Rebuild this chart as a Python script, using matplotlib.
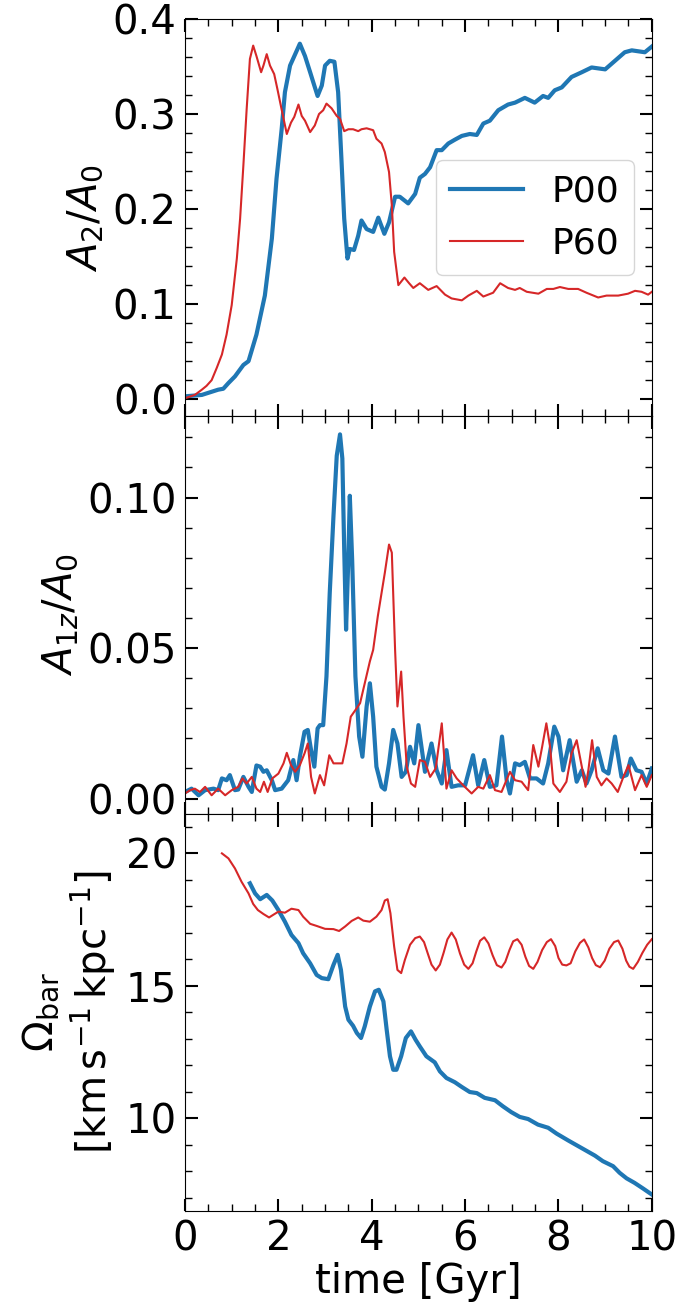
import matplotlib
matplotlib.use('Agg')
from matplotlib import pyplot as plt
from matplotlib.ticker import MultipleLocator

# ---- bar strength A2/A0 ----
t_a2_p00 = [0.0, 0.36, 0.71, 0.82, 0.93, 1.07, 1.25, 1.36, 1.53, 1.71, 1.86, 1.96, 2.07, 2.14,
            2.25, 2.36, 2.46, 2.57, 2.68, 2.75, 2.84, 2.93, 3.0, 3.1, 3.2, 3.28, 3.35, 3.41,
            3.48, 3.53, 3.62, 3.71, 3.78, 3.89, 4.03, 4.14, 4.27, 4.37, 4.5, 4.6, 4.78, 4.93,
            5.03, 5.14, 5.25, 5.39, 5.5, 5.64, 5.78, 5.93, 6.1, 6.25, 6.39, 6.53, 6.71, 6.92,
            7.07, 7.28, 7.49, 7.67, 7.78, 7.92, 8.07, 8.28, 8.5, 8.71, 9.0, 9.14, 9.42, 9.57,
            9.85, 10.0]
a2_p00 = [0.003, 0.0045, 0.010, 0.011, 0.017, 0.024, 0.036, 0.040, 0.068, 0.109, 0.169, 0.232,
          0.284, 0.323, 0.351, 0.363, 0.374, 0.361, 0.344, 0.333, 0.319, 0.330, 0.351, 0.356,
          0.355, 0.323, 0.253, 0.190, 0.148, 0.158, 0.157, 0.172, 0.188, 0.179, 0.176, 0.191,
          0.174, 0.186, 0.213, 0.213, 0.206, 0.216, 0.233, 0.237, 0.244, 0.262, 0.262, 0.269,
          0.273, 0.277, 0.279, 0.278, 0.290, 0.293, 0.304, 0.310, 0.312, 0.317, 0.312, 0.319,
          0.317, 0.325, 0.328, 0.339, 0.344, 0.349, 0.347, 0.353, 0.365, 0.367, 0.365, 0.371]

t_a2_p60 = [0.0, 0.21, 0.36, 0.46, 0.57, 0.68, 0.79, 0.89, 1.0, 1.11, 1.18, 1.25, 1.32, 1.39,
            1.46, 1.53, 1.63, 1.68, 1.75, 1.82, 1.91, 1.98, 2.06, 2.18, 2.27, 2.34, 2.43, 2.5,
            2.57, 2.68, 2.78, 2.87, 2.96, 3.03, 3.14, 3.25, 3.32, 3.41, 3.5, 3.6, 3.71, 3.78,
            3.89, 4.03, 4.1, 4.21, 4.28, 4.37, 4.43, 4.48, 4.57, 4.7, 4.8, 4.89, 5.03, 5.21,
            5.39, 5.57, 5.71, 5.93, 6.07, 6.25, 6.39, 6.6, 6.75, 6.92, 7.07, 7.17, 7.32, 7.57,
            7.75, 7.89, 8.03, 8.21, 8.42, 8.6, 8.85, 9.03, 9.28, 9.49, 9.64, 9.78, 9.92, 10.0]
a2_p60 = [0.001, 0.0045, 0.010, 0.014, 0.020, 0.033, 0.047, 0.068, 0.099, 0.148, 0.190, 0.246,
          0.305, 0.358, 0.372, 0.361, 0.344, 0.351, 0.363, 0.351, 0.342, 0.326, 0.307, 0.279,
          0.291, 0.297, 0.310, 0.298, 0.293, 0.281, 0.288, 0.300, 0.304, 0.311, 0.306, 0.298,
          0.295, 0.282, 0.284, 0.284, 0.282, 0.284, 0.285, 0.283, 0.274, 0.269, 0.260, 0.239,
          0.204, 0.155, 0.120, 0.128, 0.122, 0.117, 0.122, 0.115, 0.119, 0.110, 0.106, 0.104,
          0.109, 0.114, 0.108, 0.112, 0.122, 0.117, 0.115, 0.117, 0.113, 0.111, 0.116, 0.116,
          0.118, 0.116, 0.116, 0.112, 0.107, 0.109, 0.109, 0.111, 0.114, 0.113, 0.110, 0.113]

# ---- vertical asymmetry A1z/A0 ----
t_a1_p00 = [0.0, 0.14, 0.29, 0.43, 0.61, 0.71, 0.79, 0.89, 0.96, 1.07, 1.14, 1.25, 1.36, 1.43,
            1.53, 1.61, 1.68, 1.75, 1.86, 1.93, 2.07, 2.21, 2.32, 2.39, 2.46, 2.56, 2.63, 2.7,
            2.77, 2.84, 2.89, 2.96, 3.03, 3.1, 3.18, 3.25, 3.32, 3.37, 3.41, 3.45, 3.5, 3.53,
            3.58, 3.65, 3.73, 3.8, 3.89, 3.96, 4.03, 4.1, 4.21, 4.28, 4.37, 4.46, 4.55, 4.64,
            4.73, 4.82, 4.91, 5.0, 5.14, 5.28, 5.39, 5.5, 5.6, 5.71, 5.85, 6.0, 6.17, 6.28,
            6.41, 6.53, 6.67, 6.79, 6.89, 6.96, 7.07, 7.17, 7.28, 7.39, 7.53, 7.67, 7.78, 7.91,
            8.0, 8.1, 8.24, 8.39, 8.5, 8.6, 8.71, 8.84, 8.96, 9.07, 9.21, 9.35, 9.46, 9.55,
            9.67, 9.78, 9.89, 10.0]
a1_p00 = [0.0022, 0.0033, 0.0011, 0.0028, 0.0033, 0.0028, 0.0067, 0.0061, 0.0078, 0.0028,
          0.0030, 0.0072, 0.0039, 0.0022, 0.0110, 0.0106, 0.0089, 0.0094, 0.0061, 0.0028,
          0.0033, 0.0061, 0.0128, 0.0061, 0.0139, 0.0222, 0.0228, 0.0161, 0.0106, 0.0233,
          0.0244, 0.0244, 0.0406, 0.0683, 0.0939, 0.1139, 0.1210, 0.1130, 0.0828, 0.0561,
          0.0806, 0.1006, 0.0794, 0.0406, 0.0206, 0.0139, 0.0306, 0.0383, 0.0272, 0.0106,
          0.0039, 0.0030, 0.0117, 0.0228, 0.0183, 0.0072, 0.0089, 0.0172, 0.0117, 0.0244,
          0.0089, 0.0183, 0.0094, 0.0050, 0.0161, 0.0039, 0.0044, 0.0044, 0.0144, 0.0044,
          0.0128, 0.0039, 0.0044, 0.0206, 0.0061, 0.0017, 0.0117, 0.0111, 0.0122, 0.0067,
          0.0067, 0.0050, 0.0117, 0.0239, 0.0206, 0.0094, 0.0194, 0.0056, 0.0094, 0.0050,
          0.0094, 0.0167, 0.0094, 0.0083, 0.0206, 0.0072, 0.0078, 0.0133, 0.0094, 0.0089,
          0.0050, 0.0100]

t_a1_p60 = [0.0, 0.11, 0.21, 0.32, 0.43, 0.57, 0.71, 0.86, 1.0, 1.14, 1.23, 1.32, 1.43, 1.53,
            1.61, 1.69, 1.77, 1.87, 2.0, 2.11, 2.18, 2.27, 2.36, 2.46, 2.56, 2.63, 2.7, 2.78,
            2.89, 2.98, 3.09, 3.18, 3.27, 3.37, 3.46, 3.55, 3.65, 3.75, 3.85, 3.96, 4.03, 4.13,
            4.21, 4.28, 4.37, 4.43, 4.5, 4.55, 4.63, 4.68, 4.75, 4.84, 4.93, 5.03, 5.14, 5.25,
            5.37, 5.5, 5.6, 5.71, 5.82, 5.96, 6.14, 6.28, 6.39, 6.53, 6.64, 6.78, 6.96, 7.07,
            7.21, 7.35, 7.46, 7.57, 7.65, 7.74, 7.82, 7.89, 8.03, 8.17, 8.28, 8.39, 8.5, 8.58,
            8.64, 8.72, 8.82, 8.92, 9.03, 9.14, 9.27, 9.39, 9.5, 9.64, 9.78, 9.89, 10.0]
a1_p60 = [0.0017, 0.0028, 0.0033, 0.0022, 0.0039, 0.0011, 0.0033, 0.0011, 0.0028, 0.0039,
          0.0067, 0.0050, 0.0072, 0.0033, 0.0022, 0.0056, 0.0022, 0.0067, 0.0083, 0.0117,
          0.0152, 0.0111, 0.0089, 0.0111, 0.0150, 0.0183, 0.0072, 0.0017, 0.0078, 0.0044,
          0.0144, 0.0117, 0.0117, 0.0117, 0.0183, 0.0272, 0.0294, 0.0317, 0.0383, 0.0456,
          0.0494, 0.0606, 0.0683, 0.0750, 0.0844, 0.0817, 0.0494, 0.0306, 0.0422, 0.0272,
          0.0106, 0.0050, 0.0039, 0.0128, 0.0122, 0.0072, 0.0100, 0.0250, 0.0033, 0.0094,
          0.0067, 0.0044, 0.0017, 0.0039, 0.0033, 0.0078, 0.0028, 0.0022, 0.0089, 0.0061,
          0.0056, 0.0028, 0.0178, 0.0106, 0.0172, 0.0250, 0.0172, 0.0050, 0.0022, 0.0056,
          0.0150, 0.0194, 0.0106, 0.0039, 0.0094, 0.0194, 0.0072, 0.0044, 0.0067, 0.0050,
          0.0022, 0.0072, 0.0111, 0.0028, 0.0078, 0.0039, 0.0078]

# ---- bar pattern speed ----
t_om_p00 = [1.39, 1.5, 1.61, 1.75, 1.87, 2.0, 2.14, 2.28, 2.43, 2.53, 2.68, 2.82, 2.93, 3.07,
            3.18, 3.27, 3.34, 3.43, 3.5, 3.6, 3.68, 3.77, 3.85, 3.96, 4.07, 4.15, 4.25, 4.32,
            4.39, 4.46, 4.53, 4.63, 4.73, 4.84, 4.94, 5.03, 5.17, 5.35, 5.46, 5.6, 5.78, 5.93,
            6.1, 6.25, 6.42, 6.64, 6.81, 6.99, 7.17, 7.35, 7.56, 7.78, 7.96, 8.21, 8.49, 8.78,
            8.95, 9.17, 9.31, 9.46, 9.63, 9.81, 10.0]
om_p00 = [18.87, 18.49, 18.27, 18.43, 18.22, 17.86, 17.42, 16.92, 16.61, 16.23, 15.85, 15.41,
          15.29, 15.25, 15.79, 16.17, 15.60, 14.22, 13.72, 13.49, 13.22, 13.03, 13.47, 14.22,
          14.79, 14.85, 14.41, 13.34, 12.34, 11.83, 11.83, 12.34, 13.03, 13.28, 12.96, 12.71,
          12.34, 12.11, 11.77, 11.52, 11.36, 11.18, 10.99, 10.95, 10.77, 10.68, 10.45, 10.23,
          10.05, 9.97, 9.76, 9.64, 9.42, 9.16, 8.88, 8.59, 8.38, 8.19, 7.94, 7.73, 7.56, 7.35,
          7.12]

t_om_p60 = [0.79, 0.93, 1.07, 1.21, 1.36, 1.46, 1.56, 1.68, 1.8, 1.89, 2.0, 2.14, 2.28, 2.43,
            2.53, 2.68, 2.82, 3.0, 3.18, 3.3, 3.43, 3.57, 3.71, 3.82, 3.96, 4.1, 4.21, 4.28,
            4.34, 4.4, 4.48, 4.55, 4.63, 4.71, 4.82, 4.93, 5.03, 5.12, 5.2, 5.28, 5.37, 5.46,
            5.54, 5.62, 5.71, 5.8, 5.89, 5.98, 6.07, 6.16, 6.24, 6.32, 6.41, 6.5, 6.59, 6.68,
            6.78, 6.86, 6.95, 7.03, 7.12, 7.21, 7.29, 7.37, 7.46, 7.55, 7.65, 7.75, 7.84, 7.93,
            8.0, 8.08, 8.17, 8.26, 8.36, 8.46, 8.55, 8.64, 8.72, 8.8, 8.89, 8.99, 9.09, 9.19,
            9.28, 9.37, 9.45, 9.52, 9.6, 9.7, 9.8, 9.9, 10.0]
om_p60 = [20.0, 19.81, 19.43, 18.93, 18.49, 18.09, 17.86, 17.71, 17.58, 17.68, 17.80, 17.76,
          17.91, 17.86, 17.61, 17.34, 17.26, 17.15, 17.14, 17.07, 17.24, 17.45, 17.58, 17.46,
          17.42, 17.61, 17.86, 18.22, 18.27, 17.74, 16.48, 15.60, 15.48, 15.98, 16.55, 16.80,
          16.86, 16.65, 16.22, 15.80, 15.58, 15.80, 16.25, 16.75, 17.01, 16.75, 16.22, 15.80,
          15.64, 15.85, 16.30, 16.70, 16.83, 16.60, 16.15, 15.78, 15.69, 15.90, 16.35, 16.68,
          16.76, 16.55, 16.10, 15.75, 15.64, 15.90, 16.35, 16.65, 16.76, 16.50, 16.05, 15.80,
          15.77, 15.85, 16.30, 16.62, 16.75, 16.45, 16.05, 15.78, 15.70, 15.95, 16.40, 16.65,
          16.71, 16.40, 15.95, 15.72, 15.64, 15.90, 16.25, 16.55, 16.76]

blue = '#1f77b4'
red = '#d62728'

plt.rcParams['font.size'] = 29
plt.rcParams['font.family'] = ['DejaVu Sans']

fig, axes = plt.subplots(3, 1, figsize=(6.79, 13.09), dpi=100, sharex=True)
fig.subplots_adjust(left=0.2725, right=0.960, top=0.9855, bottom=0.0749, hspace=0)

ax = axes[0]
ax.plot(t_a2_p00, a2_p00, color=blue, lw=3.0, label='P00')
ax.plot(t_a2_p60, a2_p60, color=red, lw=1.5, label='P60')
ax.set_ylim(-0.018, 0.4)
ax.yaxis.set_major_locator(MultipleLocator(0.1))
ax.yaxis.set_minor_locator(MultipleLocator(0.02))
ax.set_ylabel(r'$A_2/A_0$', labelpad=5)
ax.legend(loc='center right', fontsize=26)

ax = axes[1]
ax.plot(t_a1_p00, a1_p00, color=blue, lw=3.0)
ax.plot(t_a1_p60, a1_p60, color=red, lw=1.5)
ax.set_ylim(-0.005, 0.127)
ax.yaxis.set_major_locator(MultipleLocator(0.05))
ax.yaxis.set_minor_locator(MultipleLocator(0.01))
ax.set_ylabel(r'$A_{1z}/A_0$', labelpad=5)

ax = axes[2]
ax.plot(t_om_p00, om_p00, color=blue, lw=3.0)
ax.plot(t_om_p60, om_p60, color=red, lw=1.5)
ax.set_ylim(6.5, 21.5)
ax.yaxis.set_major_locator(MultipleLocator(5))
ax.yaxis.set_minor_locator(MultipleLocator(1))
ax.set_ylabel(r'$\Omega_{\rm bar}$' + '\n' + r'$[\mathrm{km\,s^{-1}\,kpc^{-1}}]$', labelpad=5)
ax.set_xlabel('time [Gyr]', labelpad=2)

for ax in axes:
    ax.set_xlim(0, 10)
    ax.xaxis.set_major_locator(MultipleLocator(2))
    ax.xaxis.set_minor_locator(MultipleLocator(0.5))
    ax.tick_params(which='both', direction='in', top=True, right=True, pad=6)
    ax.tick_params(which='major', length=9, width=1.5)
    ax.tick_params(which='minor', length=5, width=1.0)

fig.savefig('out.png', dpi=100)
